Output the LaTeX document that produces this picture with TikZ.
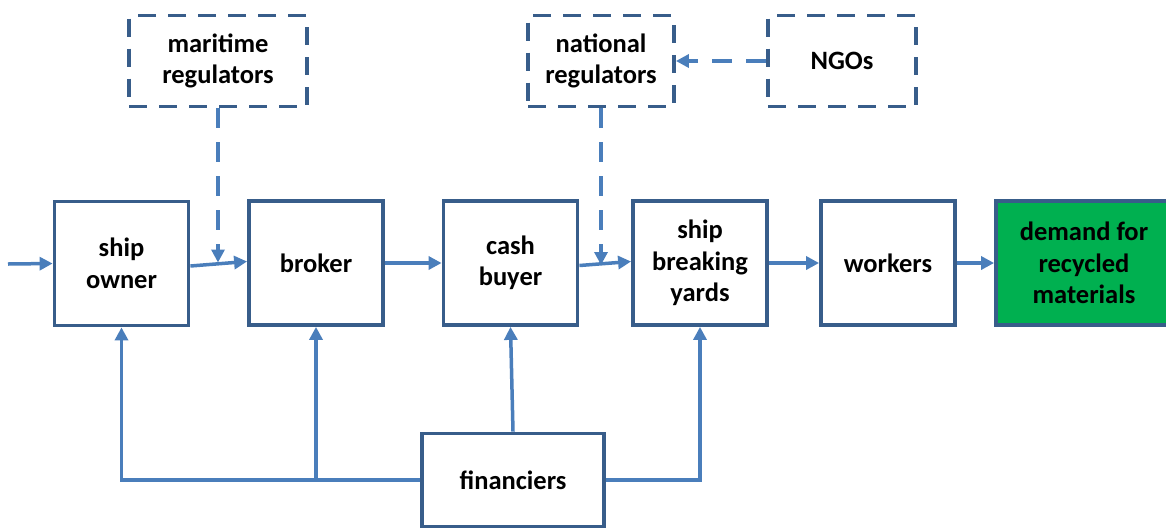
\documentclass[tikz,border=0pt]{standalone}
\usepackage{fontspec}
\setmainfont{Carlito}
\usetikzlibrary{arrows.meta}
\definecolor{boxline}{HTML}{385D8A}
\definecolor{arrowc}{HTML}{4A7EBB}
\definecolor{greenfill}{HTML}{00B050}
\tikzset{
  mainbox/.style={draw=boxline, line width=3.8pt, minimum width=134pt, minimum height=124pt,
    align=center, font=\fontsize{26.5}{31.5}\selectfont\bfseries, inner sep=0pt},
  regbox/.style={draw=boxline, line width=3.8pt, dash pattern=on 18pt off 12pt,
    minimum height=91pt, align=center, font=\fontsize{26.5}{31.5}\selectfont\bfseries, inner sep=0pt},
  flow/.style={draw=arrowc, line width=3.5pt, -{Triangle[length=13pt,width=13pt]}},
  dflow/.style={draw=arrowc, line width=3.5pt, dash pattern=on 20pt off 14pt, -{Triangle[length=13pt,width=13pt]}},
}
\begin{document}
\begin{tikzpicture}[x=1pt,y=-1pt]
\useasboundingbox (0,0) rectangle (1166,528);
% main chain
\node[mainbox] (owner) at (121.5,263.5) {ship\\owner};
\node[mainbox] (broker) at (316,263) {broker};
\node[mainbox] (cash) at (510.5,263) {cash\\buyer};
\node[mainbox] (yards) at (700,263) {ship\\breaking\\yards};
\node[mainbox] (workers) at (888,263) {workers};
\node[mainbox, fill=greenfill, minimum width=176pt] (demand) at (1084,263) {demand for\\recycled\\materials};
% regulators
\node[regbox, minimum width=178pt] (maritime) at (218,61) {maritime\\regulators};
\node[regbox, minimum width=146pt] (national) at (601,61) {national\\regulators};
\node[regbox, minimum width=148pt] (ngos) at (842,61) {NGOs};
% financiers
\node[mainbox, minimum width=182pt, minimum height=93pt] (fin) at (513,480) {financiers};
% coordinates
\coordinate (in) at (8,264);
\coordinate (m1) at (218,262.5);
\coordinate (n1) at (601,265);
% flows
\draw[flow] (in) -- (owner.west);
\draw[flow] ([yshift=-2.5pt]owner.east) -- ([yshift=1.5pt]broker.west);
\draw[flow] (broker.east) -- (cash.west);
\draw[flow] ([yshift=-2.5pt]cash.east) -- ([yshift=1.5pt]yards.west);
\draw[flow] (yards.east) -- (workers.west);
\draw[flow] (workers.east) -- (demand.west);
% dashed
\draw[dflow] (maritime.south) -- (m1);
\draw[dflow] (national.south) -- (n1);
\draw[dflow] (ngos.west) -- (national.east);
% financiers
\draw[flow] (fin.west) -| (owner.south);
\draw[flow] (fin.west -| broker.south) -- (broker.south);
\draw[flow] (fin.north) -- (cash.south);
\draw[flow] (fin.east) -| (yards.south);
\end{tikzpicture}
\end{document}
